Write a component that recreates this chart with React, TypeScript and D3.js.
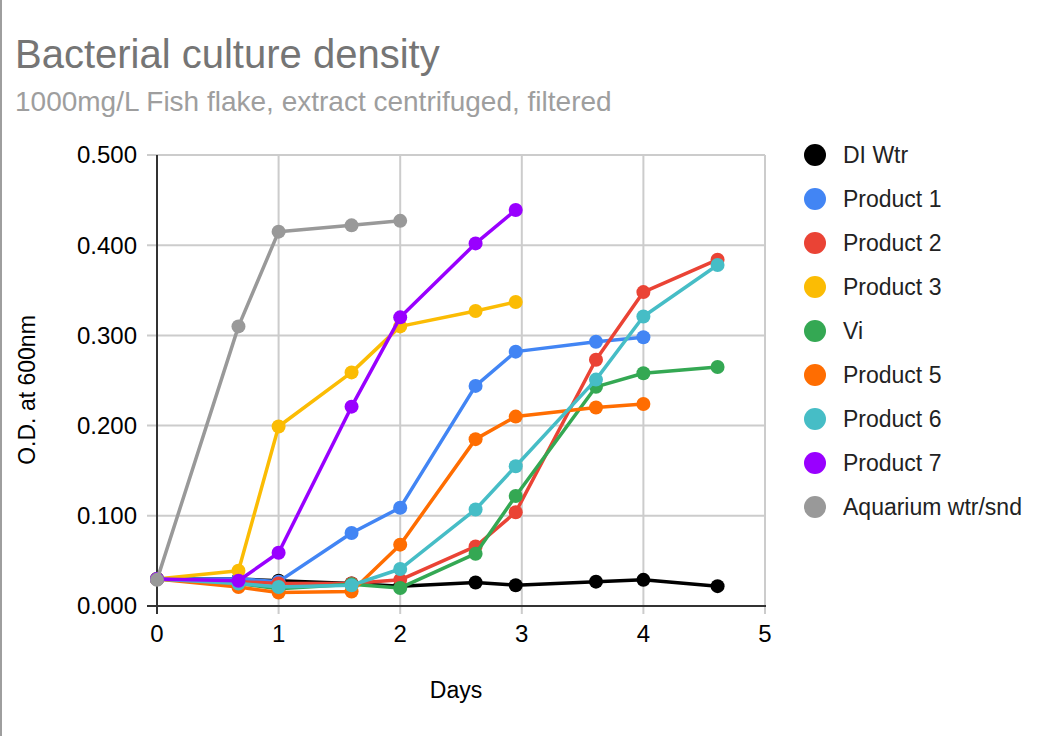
import React from "react";
import * as d3 from "d3";

const seriesNames = ["DI Wtr", "Product 1", "Product 2", "Product 3", "Vi", "Product 5", "Product 6", "Product 7", "Aquarium wtr/snd"];
const seriesColors = ["#000000", "#4285F4", "#EA4335", "#FBBC04", "#34A853", "#FF6D01", "#46BDC6", "#9900FF", "#999999"];

const days = [0, 0.67, 1, 1.6, 2, 2.62, 2.95, 3.61, 4, 4.61];

const diWtr = [0.030, 0.030, 0.028, 0.025, 0.022, 0.026, 0.023, 0.027, 0.029, 0.022];
const product1 = [0.030, 0.030, 0.027, 0.081, 0.109, 0.244, 0.282, 0.293, 0.298, null];
const product2 = [0.030, 0.027, 0.025, 0.025, 0.029, 0.066, 0.104, 0.273, 0.348, 0.384];
const product3 = [0.030, 0.039, 0.199, 0.259, 0.310, 0.327, 0.337, null, null, null];
const vi = [0.030, 0.025, 0.019, 0.024, 0.020, 0.058, 0.122, 0.243, 0.258, 0.265];
const product5 = [0.030, 0.021, 0.015, 0.016, 0.068, 0.185, 0.210, 0.220, 0.224, null];
const product6 = [0.030, 0.025, 0.021, 0.023, 0.041, 0.107, 0.155, 0.251, 0.321, 0.378];
const product7 = [0.030, 0.028, 0.059, 0.221, 0.320, 0.402, 0.439, null, null, null];
const aquarium = [0.029, 0.310, 0.415, 0.422, 0.427, null, null, null, null, null];

const seriesValues = [diWtr, product1, product2, product3, vi, product5, product6, product7, aquarium];

const xTicks = [0, 1, 2, 3, 4, 5];
const yTicks = [0, 0.1, 0.2, 0.3, 0.4, 0.5];

const title = "Bacterial culture density";
const subtitle = "1000mg/L Fish flake, extract centrifuged, filtered";
const xTitle = "Days";
const yTitle = "O.D. at 600nm";

export default function App() {
  const W = 1060, H = 736;
  const x = d3.scaleLinear().domain([0, 5]).range([157, 765]);
  const y = d3.scaleLinear().domain([0, 0.5]).range([606, 155]);
  const font = "Arial, 'Liberation Sans', sans-serif";

  const line = d3
    .line<[number, number | null]>()
    .defined((d) => d[1] != null)
    .x((d) => x(d[0]))
    .y((d) => y(d[1] as number));

  return (
    <svg width={W} height={H} style={{ position: "absolute", left: 0, top: 0, background: "#fff" }} fontFamily={font}>
      <rect x={0} y={0} width={W} height={H} fill="#fff" />
      <line x1={1} x2={1} y1={0} y2={H} stroke="#9e9e9e" strokeWidth={2} />
      <text x={15} y={68} fontSize={40} fill="#757575">{title}</text>
      <text x={15} y={111} fontSize={28} fill="#9e9e9e">{subtitle}</text>

      {yTicks.map((t) => (
        <g key={"y" + t}>
          <line x1={147} x2={765} y1={y(t)} y2={y(t)} stroke="#cccccc" strokeWidth={2} />
          <text x={137} y={y(t)} dy="0.35em" textAnchor="end" fontSize={24} fill="#000">{d3.format(".3f")(t)}</text>
        </g>
      ))}
      {xTicks.map((t) => (
        <g key={"x" + t}>
          <line x1={x(t)} x2={x(t)} y1={155} y2={614} stroke="#cccccc" strokeWidth={2} />
          <text x={x(t)} y={642} textAnchor="middle" fontSize={24} fill="#000">{t}</text>
        </g>
      ))}
      <line x1={157} x2={157} y1={155} y2={614} stroke="#333" strokeWidth={2} />
      <line x1={147} x2={766} y1={606} y2={606} stroke="#333" strokeWidth={2} />

      <text x={456} y={698} textAnchor="middle" fontSize={23} fill="#000">{xTitle}</text>
      <text transform={`translate(35,${390}) rotate(-90)`} textAnchor="middle" fontSize={23} fill="#000">{yTitle}</text>

      {seriesValues.map((vals, i) => {
        const pts = days.map((d, j) => [d, vals[j]] as [number, number | null]);
        return (
          <g key={"s" + i}>
            <path d={line(pts) || ""} fill="none" stroke={seriesColors[i]} strokeWidth={3.5} strokeLinejoin="round" />
            {pts.filter((p) => p[1] != null).map((p, j) => (
              <circle key={j} cx={x(p[0])} cy={y(p[1] as number)} r={7} fill={seriesColors[i]} />
            ))}
          </g>
        );
      })}

      {seriesNames.map((n, i) => (
        <g key={"l" + i} transform={`translate(0,${155 + i * 44})`}>
          <circle cx={815} cy={0} r={11} fill={seriesColors[i]} />
          <text x={843} y={0} dy="0.35em" fontSize={23} fill="#222">{n}</text>
        </g>
      ))}
    </svg>
  );
}
